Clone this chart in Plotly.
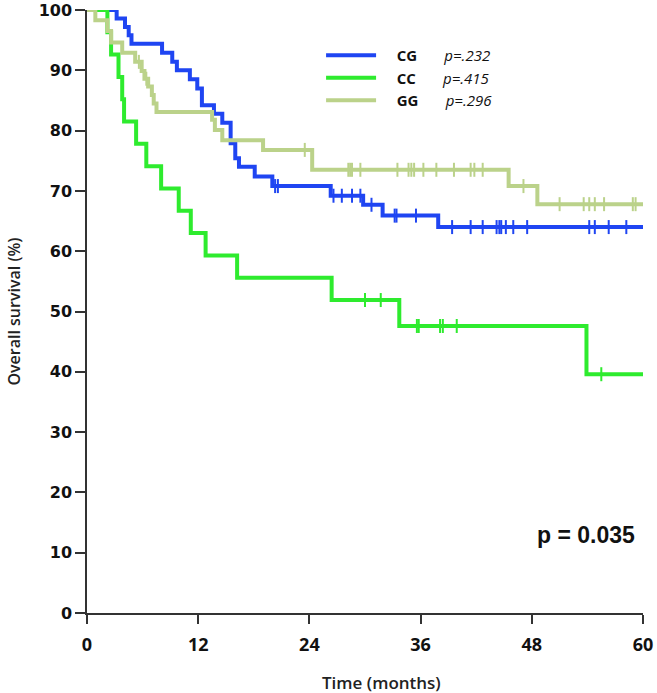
import plotly.graph_objects as go

# ---------------- data ----------------
# CG group
cg_times = [0, 3.2, 4.1, 4.5, 4.8, 8.1, 9.2, 9.7, 11.1, 11.9, 12.4, 13.7, 14.6, 15.5, 16.0, 16.4,
            18.1, 20.0, 26.3, 29.8, 31.9, 37.9, 60]
cg_surv = [100, 98.6, 97.2, 95.8, 94.4, 92.9, 91.4, 90.0, 88.5, 87.0, 84.2, 82.8, 81.3, 77.9, 75.4, 74.0,
           72.4, 70.8, 69.2, 67.7, 65.9, 64.0, 64.0]
cg_censor = [20.3, 20.6, 26.6, 27.5, 28.6, 29.5, 30.7, 33.2, 33.4, 35.5, 39.4, 41.4, 42.7, 44.2, 44.5,
             44.7, 45.2, 46.0, 47.5, 54.2, 54.8, 56.3, 58.2]

# CC group
cc_times = [0, 2.2, 2.6, 3.4, 3.8, 4.0, 5.3, 6.4, 8.0, 9.9, 11.2, 12.8, 16.2, 26.4, 33.7, 53.9, 60]
cc_surv = [100, 96.3, 92.6, 88.9, 85.2, 81.5, 77.8, 74.1, 70.4, 66.7, 63.0, 59.3, 55.6, 51.9, 47.6,
           39.6, 39.6]
cc_censor = [30.0, 31.7, 35.6, 35.8, 38.1, 38.4, 39.9, 55.5]

# GG group
gg_times = [0, 0.9, 2.2, 2.6, 3.8, 5.2, 5.9, 6.2, 6.6, 7.0, 7.2, 7.5, 13.5, 13.8, 14.6, 19.0, 24.3,
            45.5, 48.6, 60]
gg_surv = [100, 98.3, 96.5, 94.6, 92.9, 91.4, 89.9, 88.6, 87.3, 85.9, 84.5, 83.1, 81.8, 80.1, 78.4,
           76.8, 73.5, 70.8, 67.8, 67.8]
gg_censor = [5.6, 6.4, 23.5, 28.2, 28.4, 28.6, 29.5, 33.5, 34.7, 35.0, 35.3, 36.3, 37.7, 39.6, 41.4,
             41.8, 42.7, 47.1, 51.0, 53.6, 54.2, 54.8, 55.8, 58.9, 59.2]

group_names = ["CG", "CC", "GG"]
group_pvals = ["p=.232", "p=.415", "p=.296"]
overall_p = "p = 0.035"

x_ticks = [0, 12, 24, 36, 48, 60]
y_ticks = [0, 10, 20, 30, 40, 50, 60, 70, 80, 90, 100]

colors = ["#1F45F2", "#2EEB2E", "#BBD28A"]


def surv_at(t, times, surv):
    val = surv[0]
    for ti, si in zip(times, surv):
        if ti <= t:
            val = si
        else:
            break
    return val


fig = go.Figure()

groups = [
    (cg_times, cg_surv, cg_censor),
    (cc_times, cc_surv, cc_censor),
    (gg_times, gg_surv, gg_censor),
]

for i, (t, s, c) in enumerate(groups):
    fig.add_trace(go.Scatter(
        x=t, y=s, mode="lines", line=dict(color=colors[i], width=4, shape="hv"),
        name=(f"&nbsp;&nbsp;&nbsp;&nbsp;<b>{group_names[i]}</b>&nbsp;&nbsp;&nbsp;&nbsp;&nbsp;&nbsp;&nbsp;"
              f"<i>{group_pvals[i]}</i>"),
        cliponaxis=False, legendrank=i + 1,
    ))
    fig.add_trace(go.Scatter(
        x=c, y=[surv_at(ct, t, s) for ct in c], mode="markers",
        marker=dict(symbol="line-ns", size=10, line=dict(color=colors[i], width=2)),
        showlegend=False, cliponaxis=False,
    ))

fig.add_annotation(
    text=f"<b>{overall_p}</b>", xref="paper", yref="paper", x=0.897, y=0.129,
    showarrow=False, font=dict(family="Liberation Sans, Arial", size=23, color="#111111"),
    xanchor="center", yanchor="middle",
)

fig.add_annotation(
    text="Time (months)", xref="paper", yref="paper", x=0.53, y=-0.116,
    showarrow=False, font=dict(family="Open Sans", size=17, color="#222222", weight=600),
    xanchor="center", yanchor="middle",
)

fig.add_annotation(
    text="Overall survival (%)", xref="paper", yref="paper", x=-0.133, y=0.5,
    textangle=-90, showarrow=False,
    font=dict(family="Open Sans", size=16, color="#222222", weight=600),
    xanchor="center", yanchor="middle",
)

fig.update_layout(
    width=657, height=693,
    margin=dict(l=87, r=14, t=10, b=80),
    paper_bgcolor="white", plot_bgcolor="white",
    showlegend=True,
    legend=dict(
        x=0.421, y=0.952, xanchor="left", yanchor="top",
        font=dict(family="Open Sans", size=15, color="#111111"),
        bgcolor="rgba(0,0,0,0)", itemwidth=50, tracegroupgap=0,
    ),
    xaxis=dict(
        range=[0, 60], tickvals=x_ticks, ticktext=[str(v) for v in x_ticks],
        showgrid=False, zeroline=False, showline=True, linecolor="#333333", linewidth=1.5,
        ticks="outside", ticklen=9, tickwidth=1.5, tickcolor="#333333",
        tickfont=dict(family="Open Sans", size=18, color="#111111", weight="bold"),
        ticklabelstandoff=6, automargin=False, ticklabeloverflow="allow",
    ),
    yaxis=dict(
        range=[0, 100], tickvals=y_ticks, ticktext=[str(v) for v in y_ticks],
        showgrid=False, zeroline=False, showline=True, linecolor="#333333", linewidth=1.5,
        ticks="outside", ticklen=10, tickwidth=1.5, tickcolor="#333333",
        tickfont=dict(family="DejaVu Sans", size=16, color="#111111", weight="bold"),
        automargin=False, ticklabeloverflow="allow",
    ),
)

fig.write_html("out.html", config={"displayModeBar": False},
               post_script="document.body.style.margin='0';")
